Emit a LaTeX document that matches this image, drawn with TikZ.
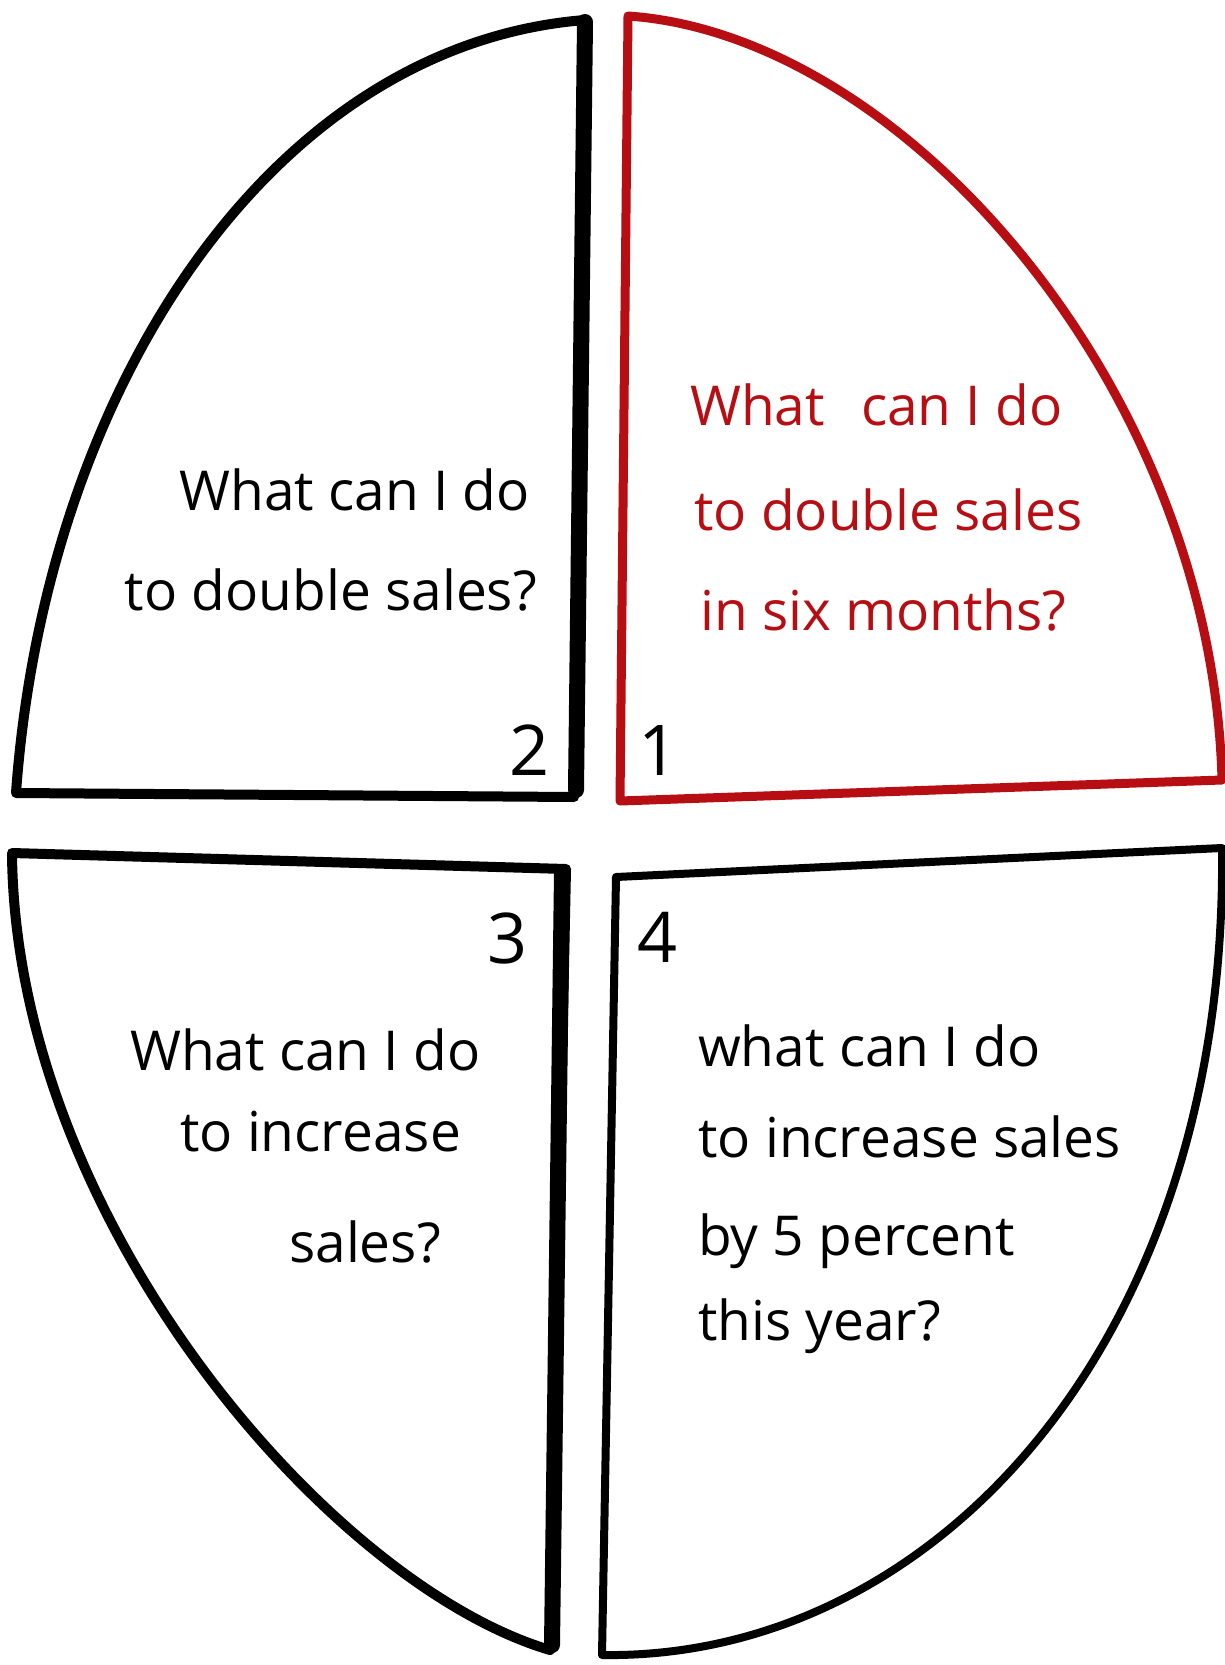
\documentclass[tikz,border=0pt]{standalone}
\usepackage{fontspec}
\setmainfont{Open Sans}
\definecolor{qred}{RGB}{183,14,20}
\begin{document}
\begin{tikzpicture}[x=1pt,y=-1pt,
  outline/.style={line width=10pt, line join=round, line cap=round},
  heavy/.style={line width=16pt, line cap=round},
  qtext/.style={inner sep=0pt, font=\fontsize{55}{60}\selectfont},
  qnum/.style={inner sep=0pt, font=\fontsize{70}{80}\selectfont},
]
\useasboundingbox (0,0) rectangle (1225,1665);
\fill[white] (0,0) rectangle (1225,1665);

% Quadrant 2 (top left)
\draw[outline] (585,20) -- (574,797) -- (16,793)
  .. controls (45,390) and (270,45) .. cycle;
\draw[heavy] (585,22) -- (576,790);

% Quadrant 1 (top right, red)
\draw[outline, qred, line width=9pt] (628,16) -- (620,801) -- (1222,780)
  .. controls (1212,390) and (905,35) .. cycle;

% Quadrant 3 (bottom left)
\draw[outline] (12,853) -- (566,869) -- (550,1650)
  .. controls (330,1585) and (15,1220) .. cycle;
\draw[heavy] (562,872) -- (552,1645);

% Quadrant 4 (bottom right)
\draw[outline, line width=8pt] (616,877) -- (1222,848)
  .. controls (1228,1340) and (935,1660) .. (602,1655) -- cycle;

% Texts
\node[qtext, anchor=base east] (q2a) at (530,510) {What can I do};
\node[qtext, anchor=base east] (q2b) at (537,610) {to double sales?};

\node[qtext, qred, anchor=base west] (q1a) at (690,425) {What\hspace{0.4em} can I do};
\node[qtext, qred, anchor=base west] (q1b) at (694,530) {to double sales};
\node[qtext, qred, anchor=base west] (q1c) at (700,630) {in six months?};

\node[qtext, anchor=base west] (q3a) at (130,1070) {What can I do};
\node[qtext, anchor=base west] (q3b) at (180,1151) {to increase};
\node[qtext, anchor=base west] (q3c) at (289,1262) {sales?};

\node[qtext, anchor=base west] (q4a) at (698,1066) {what can I do};
\node[qtext, anchor=base west] (q4b) at (698,1157) {to increase sales};
\node[qtext, anchor=base west] (q4c) at (698,1255) {by 5 percent};
\node[qtext, anchor=base west] (q4d) at (698,1340) {this year?};

% Numbers
\node[qnum, anchor=base] (n2) at (530,775) {2};
\node[qnum, anchor=base] (n1) at (659,775) {1};
\node[qnum, anchor=base] (n3) at (508,963) {3};
\node[qnum, anchor=base] (n4) at (658,962) {4};
\end{tikzpicture}
\end{document}
